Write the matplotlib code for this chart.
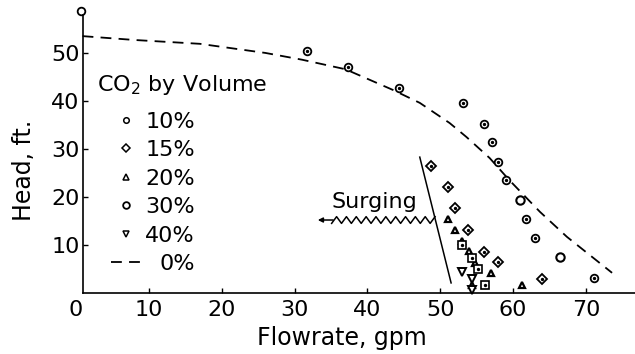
import matplotlib
matplotlib.use("Agg")
import matplotlib.pyplot as plt
import numpy as np
from matplotlib.lines import Line2D

W, H = 635, 354

# 0% CO2 performance curve
flow_0 = [0.9, 8, 17, 26, 31, 37, 43.5, 47.2, 51.3, 53.6, 56.8, 59.5, 63.7, 67.4, 73.6]
head_0 = [53.5, 52.7, 51.9, 50.0, 48.6, 46.6, 42.3, 39.6, 35.4, 32.5, 28.1, 23.5, 16.9, 11.7, 4.2]

flow_10 = [0.7, 31.7, 37.4, 44.4, 53.1, 56.0, 57.1, 57.9, 59.1, 61.8, 63.0, 71.1]
head_10 = [58.7, 50.4, 47.1, 42.7, 39.5, 35.2, 31.5, 27.3, 23.5, 15.4, 11.5, 3.1]

flow_15 = [48.8, 51.1, 52.0, 53.8, 56.0, 57.9, 64.0]
head_15 = [26.5, 22.0, 17.7, 13.1, 8.5, 6.4, 2.9]

flow_20 = [51.1, 52.0, 53.0, 53.9, 54.8, 57.0, 61.2, 54.4]
head_20 = [15.4, 13.1, 10.9, 8.8, 6.3, 4.2, 1.7, 1.7]

flow_30 = [60.9, 66.4]
head_30 = [19.4, 7.5]
flow_30_sq = [53.0, 54.4, 55.2, 56.1]
head_30_sq = [10.0, 7.2, 4.9, 1.7]

flow_40 = [53.0, 54.4, 54.4]
head_40 = [4.4, 2.9, 0.6]

# surge limit line and arrow
surge_flow = [47.2, 51.5]
surge_head = [28.3, 2.1]

x_ticks = [0, 10, 20, 30, 40, 50, 60, 70]
y_ticks = [10, 20, 30, 40, 50]
legend_labels = ["10%", "15%", "20%", "30%", "40%", "0%"]


def px(x, y):
    """pixel position (from top-left) -> figure fraction"""
    return x / W, 1 - y / H


def zigzag(x0, x1, y, amp, n):
    xs = np.linspace(x0, x1, n + 1)
    ys = y + amp * np.where(np.arange(n + 1) % 2 == 0, -1, 1)
    return xs, ys


plt.rcParams["font.family"] = "DejaVu Sans"

fig = plt.figure(figsize=(W / 100, H / 100), dpi=100)
ax = fig.add_axes([76 / W, 1 - 293 / H, 559 / W, 278 / H])

xmax = 76.75
ax.set_xlim(0, xmax)
ax.set_ylim(0, 57.9)

# performance curve
ax.plot(flow_0, head_0, color="black", lw=1.3, dashes=(6, 4))

# data
dot = dict(ls="none", marker="o", ms=1.4, color="black", clip_on=False)
ax.plot(flow_10, head_10, ls="none", marker="o", ms=5.5, mfc="white",
        mec="black", mew=1.3, clip_on=False)
ax.plot(flow_10[1:], head_10[1:], **dot)
ax.plot(flow_15, head_15, ls="none", marker="D", ms=5.2, mfc="white",
        mec="black", mew=1.3, clip_on=False)
ax.plot(flow_15, head_15, **dot)
ax.plot(flow_20, head_20, ls="none", marker="^", ms=5, mfc="white",
        mec="black", mew=1.6, clip_on=False)
ax.plot(flow_30, head_30, ls="none", marker="o", ms=6, mfc="white",
        mec="black", mew=1.5, clip_on=False)
ax.plot(flow_30_sq, head_30_sq, ls="none", marker="s", ms=6, mfc="white",
        mec="black", mew=1.2, clip_on=False)
ax.plot(flow_30_sq, head_30_sq, **dot)
ax.plot(flow_40, head_40, ls="none", marker="v", ms=6, mfc="white",
        mec="black", mew=1.4, clip_on=False)

# surging annotation
ax.plot(surge_flow, surge_head, color="black", lw=1.1)
zx, zy = zigzag(35.1, 49.3, 15.2, 0.7, 21)
ax.plot(zx, zy, color="black", lw=1.1)
ax.annotate("", xy=(33.2, 15.2), xytext=(35.3, 15.2),
            arrowprops=dict(arrowstyle="-|>", color="black", lw=1.1,
                            mutation_scale=7, shrinkA=0, shrinkB=0))
ax.text(40.9, 17.6, "Surging", fontsize=16, ha="center", va="baseline")

# axes
for s in ["top", "right"]:
    ax.spines[s].set_visible(False)
ax.spines["left"].set_position(("data", 0.9))
ax.spines["bottom"].set_bounds(0.9, xmax)
for s in ["left", "bottom"]:
    ax.spines[s].set_linewidth(1.2)

ax.set_xticks(x_ticks)
ax.set_yticks(y_ticks)
ax.tick_params(axis="both", direction="in", length=3.5, width=1, labelsize=16)
ax.tick_params(axis="x", pad=5)
ax.tick_params(axis="y", pad=2)
ax.xaxis.get_major_ticks()[0].tick1line.set_visible(False)

ax.set_xlabel("Flowrate, gpm", fontsize=17)
ax.set_ylabel("Head, ft.", fontsize=17)
ax.xaxis.set_label_coords(0.476, -0.12)
ax.yaxis.set_label_coords(-0.072, 0.44)

# legend drawn by hand so the labels line up on the right
fig.text(*px(97, 91), "CO$_2$ by Volume", fontsize=16, va="baseline")
styles = [
    dict(marker="o", ms=4, mfc="white", mec="black", mew=1.1),
    dict(marker="D", ms=4.5, mfc="white", mec="black", mew=1.1),
    dict(marker="^", ms=4.5, mfc="white", mec="black", mew=1.1),
    dict(marker="o", ms=4.8, mfc="white", mec="black", mew=1.3),
    dict(marker="v", ms=4.8, mfc="white", mec="black", mew=1.1),
]
for i, label in enumerate(legend_labels):
    base = 128 + i * 28.4
    fig.text(*px(195, base), label, fontsize=16, ha="right", va="baseline")
    mid = 1 - (base - 8) / H
    if i < len(styles):
        fig.add_artist(Line2D([126 / W], [mid], ls="none", **styles[i]))
    else:
        fig.add_artist(Line2D([111 / W, 146 / W], [mid, mid], color="black",
                              lw=1.3, dashes=(6, 4)))

fig.savefig("out.png", dpi=100)
